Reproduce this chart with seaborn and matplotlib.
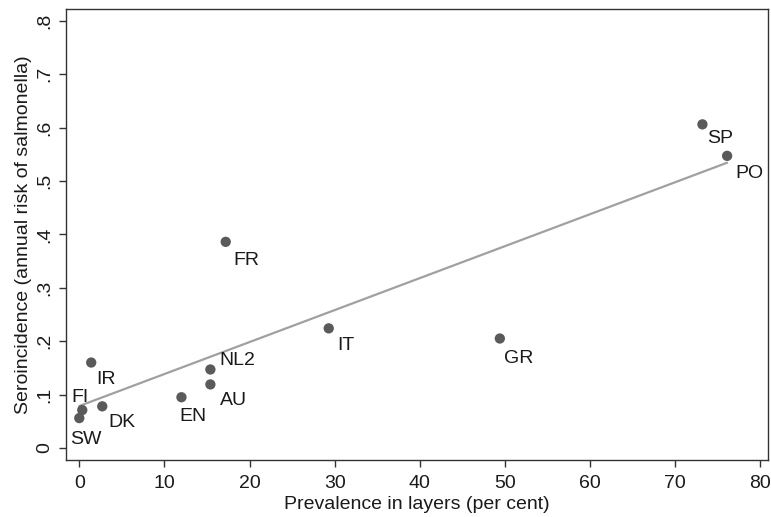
import matplotlib
matplotlib.use("Agg")
import matplotlib.pyplot as plt
import seaborn as sns
import pandas as pd

countries = ["SP", "PO", "FR", "IT", "GR", "NL2", "AU", "EN", "IR", "DK", "FI", "SW"]
prevalence = [73.2, 76.1, 17.2, 29.3, 49.4, 15.4, 15.4, 12.0, 1.4, 2.7, 0.35, 0.0]
seroincidence = [0.606, 0.547, 0.386, 0.224, 0.205, 0.147, 0.119, 0.095, 0.160, 0.078, 0.071, 0.056]

# label placement (pixels right, pixels down to text baseline)
label_offsets_px = {
    "SP": (5, 19), "PO": (8, 22), "FR": (8, 23), "IT": (9, 22), "GR": (4, 24),
    "NL2": (9, -4), "AU": (10, 21), "EN": (-2, 24), "IR": (5, 21), "DK": (6, 21),
    "FI": (-11, -8), "SW": (-9, 26),
}

df = pd.DataFrame({"country": countries, "prev": prevalence, "sero": seroincidence})

sns.set_theme(style="white")
plt.rcParams["font.family"] = ["Liberation Sans", "DejaVu Sans"]

fig = plt.figure(figsize=(7.71, 5.17), dpi=100)
ax = fig.add_axes([66 / 771, 57 / 517, 702 / 771, 451 / 517])

sns.regplot(data=df, x="prev", y="sero", ax=ax, ci=None,
            scatter_kws=dict(s=55, color="#5a5a5a", edgecolor="none", alpha=1, zorder=3),
            line_kws=dict(color="#a0a0a0", lw=1.6, zorder=2))

px2pt = 0.72
for c, x, y in zip(countries, prevalence, seroincidence):
    dx, dy = label_offsets_px[c]
    ax.annotate(c, (x, y), xytext=(dx * px2pt, -dy * px2pt), textcoords="offset points",
                ha="left", va="baseline", fontsize=14, color="#1a1a1a")

ax.set_xlim(-1.56, 80.9)
ax.set_ylim(-0.0225, 0.822)
ax.set_xticks(range(0, 81, 10))
ax.set_yticks([0, 0.1, 0.2, 0.3, 0.4, 0.5, 0.6, 0.7, 0.8])
ax.set_yticklabels(["0", ".1", ".2", ".3", ".4", ".5", ".6", ".7", ".8"], rotation=90, va="center")
ax.tick_params(axis="both", labelsize=14, length=5, width=1, color="#333333",
               left=True, bottom=True, pad=4, labelcolor="#1a1a1a")
ax.tick_params(axis="x", pad=5.5)
ax.set_xlabel("Prevalence in layers (per cent)", fontsize=14, labelpad=3.5, color="#1a1a1a")
ax.set_ylabel("Seroincidence (annual risk of salmonella)", fontsize=14, labelpad=3, color="#1a1a1a")
for s in ax.spines.values():
    s.set_color("#333333")
    s.set_linewidth(1)

fig.savefig("out.png", dpi=100)
